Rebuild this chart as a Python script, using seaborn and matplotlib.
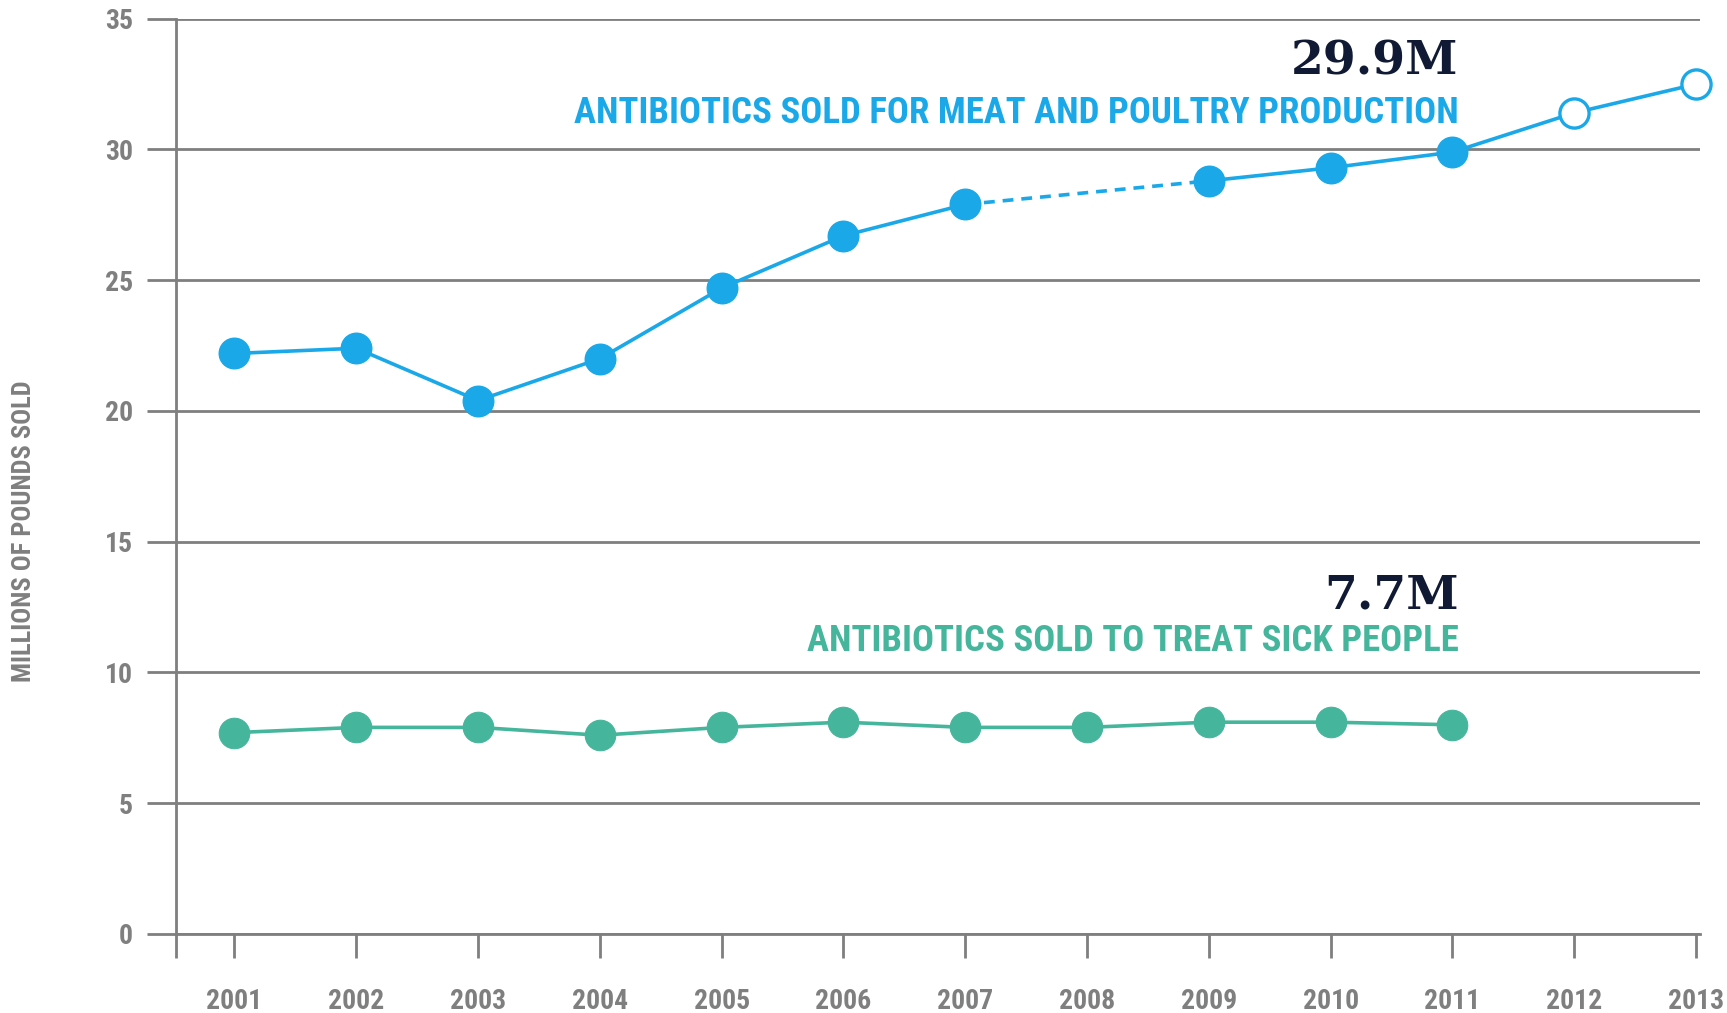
import matplotlib
matplotlib.use('Agg')
import matplotlib.pyplot as plt
from matplotlib import font_manager
import seaborn as sns

# data
years_meat = [2001, 2002, 2003, 2004, 2005, 2006, 2007, 2009, 2010, 2011, 2012, 2013]
meat = [22.2, 22.4, 20.4, 22.0, 24.7, 26.7, 27.9, 28.8, 29.3, 29.9, 31.4, 32.5]
years_people = [2001, 2002, 2003, 2004, 2005, 2006, 2007, 2008, 2009, 2010, 2011]
people = [7.7, 7.9, 7.9, 7.6, 7.9, 8.1, 7.9, 7.9, 8.1, 8.1, 8.0]
x_ticks = list(range(2001, 2014))
y_ticks = [0, 5, 10, 15, 20, 25, 30, 35]

BLUE = '#1aa8e8'
GREEN = '#45b59b'
GREY = '#7f7f80'
NAVY = '#111a35'

sns.set_style('white')
installed = {f.name for f in font_manager.fontManager.ttflist}
cond = 'DejaVu Sans'
for name in ['Roboto Condensed', 'Liberation Sans Narrow', 'Open Sans Condensed']:
    if name in installed:
        cond = name
        break
plt.rcParams['font.family'] = [cond, 'DejaVu Sans']

fig = plt.figure(figsize=(17.27, 10.13), dpi=100)
ax = fig.add_axes([0.1019, 0.078, 0.9842 - 0.1019, 0.9815 - 0.078])

# people series
sns.lineplot(x=years_people, y=people, ax=ax, color=GREEN, linewidth=2.6,
             marker='o', markersize=22, markeredgecolor=GREEN, zorder=4)

# meat series: solid, dashed over the missing year, solid
pre = [i for i, y in enumerate(years_meat) if y <= 2007]
post = [i for i, y in enumerate(years_meat) if y >= 2009]
gap = [pre[-1], post[0]]
for idx, ls in [(pre, '-'), (gap, (0, (3, 2.2))), (post, '-')]:
    sns.lineplot(x=[years_meat[i] for i in idx], y=[meat[i] for i in idx],
                 ax=ax, color=BLUE, linewidth=2.6, linestyle=ls, zorder=3)
filled = [i for i, y in enumerate(years_meat) if y <= 2011]
hollow = [i for i, y in enumerate(years_meat) if y > 2011]
sns.scatterplot(x=[years_meat[i] for i in filled], y=[meat[i] for i in filled],
                ax=ax, color=BLUE, edgecolor=BLUE, s=484, linewidth=1, zorder=5)
sns.scatterplot(x=[years_meat[i] for i in hollow], y=[meat[i] for i in hollow],
                ax=ax, color='white', edgecolor=BLUE, s=441, linewidth=2.4, zorder=5)
for c in ax.collections:
    c.set_clip_on(False)
for l in ax.lines:
    l.set_clip_on(False)

ax.set_xlim(2000.52, 2013.03)
ax.set_ylim(0, 35)
ax.set_yticks(y_ticks)
ax.set_yticklabels([str(v) for v in y_ticks])
ax.set_xticks([2000.52] + x_ticks)
ax.set_xticklabels([''] + [str(v) for v in x_ticks])
ax.grid(axis='y', color=GREY, linewidth=2)
ax.grid(axis='x', visible=False)
ax.set_axisbelow(True)
for side in ['top', 'right']:
    ax.spines[side].set_visible(False)
for side in ['left', 'bottom']:
    ax.spines[side].set_color(GREY)
    ax.spines[side].set_linewidth(2)
ax.tick_params(axis='y', left=True, direction='out', length=21, width=2, color=GREY,
               labelcolor=GREY, labelsize=20, pad=10)
ax.tick_params(axis='x', bottom=True, direction='out', length=17, width=2, color=GREY,
               labelcolor=GREY, labelsize=20, pad=22)
for t in ax.get_xticklabels() + ax.get_yticklabels():
    t.set_fontweight('bold')
ax.set_xlabel('')
ax.set_ylabel('')

fig.text(0.0139, 0.476, 'MILLIONS OF POUNDS SOLD', rotation=90, ha='center',
         va='center', color=GREY, fontsize=19, fontweight='bold')

serif = ['DejaVu Serif']
ax.text(2011.05, 32.85, '29.9M', ha='right', va='baseline', color=NAVY,
        fontsize=34, fontweight='bold', family=serif)
ax.text(2011.05, 31.0, 'ANTIBIOTICS SOLD FOR MEAT AND POULTRY PRODUCTION',
        ha='right', va='baseline', color=BLUE, fontsize=26.5, fontweight='bold')
ax.text(2011.05, 12.43, '7.7M', ha='right', va='baseline', color=NAVY,
        fontsize=34, fontweight='bold', family=serif)
ax.text(2011.05, 10.83, 'ANTIBIOTICS SOLD TO TREAT SICK PEOPLE',
        ha='right', va='baseline', color=GREEN, fontsize=26.5, fontweight='bold')

fig.savefig('out.png', dpi=100, facecolor='white')
